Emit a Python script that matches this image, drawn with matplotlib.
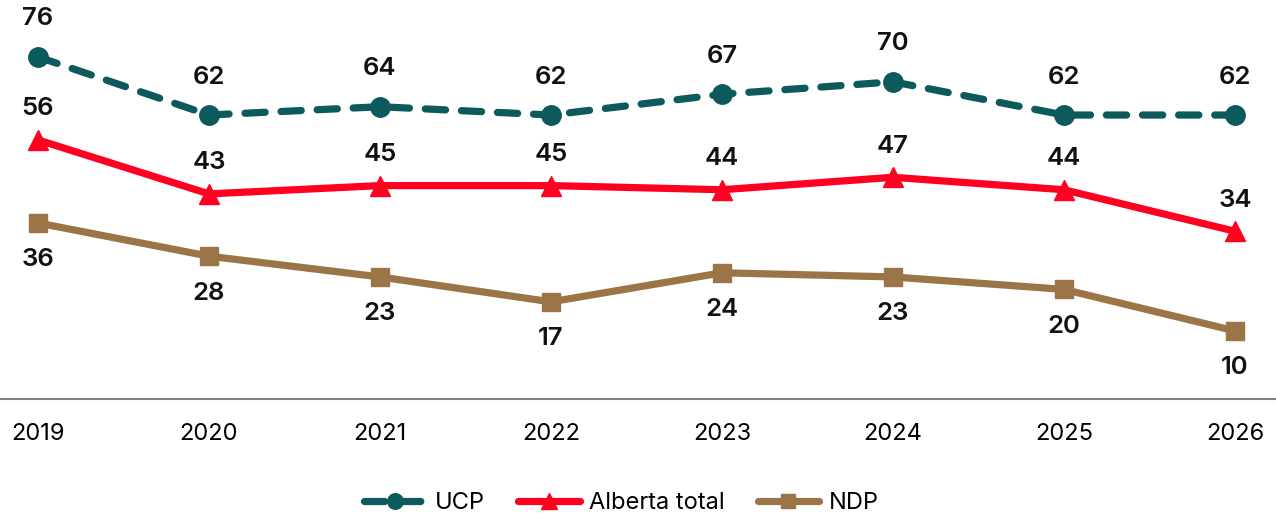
import matplotlib
matplotlib.use("Agg")
import matplotlib.pyplot as plt

years = ["2019", "2020", "2021", "2022", "2023", "2024", "2025", "2026"]
ucp = [76, 62, 64, 62, 67, 70, 62, 62]
alberta = [56, 43, 45, 45, 44, 47, 44, 34]
ndp = [36, 28, 23, 17, 24, 23, 20, 10]

plt.rcParams['font.family'] = ['Inter', 'DejaVu Sans']

c_ucp = "#0c5a5c"
c_ab = "#ff0020"
c_ndp = "#9b7447"

fig = plt.figure(figsize=(12.76, 5.18), dpi=100)
ax = fig.add_axes([0, 1 - 399 / 518, 1, 399 / 518])
x = list(range(len(years)))

ax.plot(x, ucp, color=c_ucp, lw=5.2, linestyle=(0, (2.8, 2.2)), dash_capstyle='round',
        marker='o', markersize=14, label="UCP")
ax.plot(x, alberta, color=c_ab, lw=5.2, solid_capstyle='round',
        marker='^', markersize=14, label="Alberta total")
ax.plot(x, ndp, color=c_ndp, lw=5.2, solid_capstyle='round',
        marker='s', markersize=13, label="NDP")

lab_kw = dict(textcoords='offset pixels', ha='center', va='center',
              fontsize=18.5, fontweight='semibold', color='#111111')
for xi, v in zip(x, ucp):
    ax.annotate(str(v), (xi, v), xytext=(0, 38), **lab_kw)
for xi, v in zip(x, alberta):
    ax.annotate(str(v), (xi, v), xytext=(0, 31), **lab_kw)
for xi, v in zip(x, ndp):
    ax.annotate(str(v), (xi, v), xytext=(0, -37), **lab_kw)

ax.set_xlim(-0.222, 7.24)
ax.set_ylim(-6.4, 89.7)
ax.set_xticks(x)
ax.set_xticklabels(years, fontsize=17)
ax.tick_params(axis='x', length=0, pad=17)
ax.set_yticks([])
for s in ['top', 'left', 'right']:
    ax.spines[s].set_visible(False)
ax.spines['bottom'].set_color('#808080')
ax.spines['bottom'].set_linewidth(1.5)

fig.legend(loc='center', bbox_to_anchor=(0.487, 1 - 503 / 518), ncol=3, frameon=False,
           fontsize=17, handlelength=2.6, columnspacing=1.4, handletextpad=0.4,
           markerscale=0.8)

fig.savefig("out.png", dpi=100)
